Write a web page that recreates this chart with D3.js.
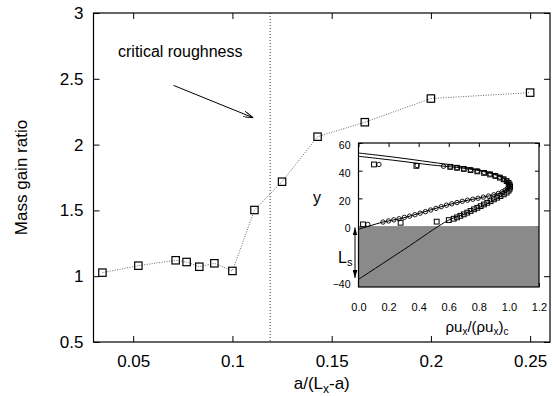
<!DOCTYPE html>
<html lang="en">
<head>
<meta charset="utf-8">
<title>Mass gain ratio</title>
<script src="https://d3js.org/d3.v7.min.js"></script>
<style>
  body { margin: 0; background: white; }
  svg { display: block; font-family: "Liberation Sans", Arial, sans-serif; }
  .axis text { fill: black; }
  .axis line { stroke: black; }
</style>
</head>
<body>
<svg width="553" height="396"></svg>
<script>
// main plot: roughness vs mass gain ratio
const roughness = [0.0345, 0.0526, 0.0714, 0.0769, 0.0833, 0.0909, 0.1, 0.1111, 0.125, 0.1429, 0.1667, 0.2, 0.25];
const massGain  = [1.027, 1.08, 1.121, 1.108, 1.072, 1.098, 1.04, 1.503, 1.718, 2.06, 2.17, 2.35, 2.395];
const xTicks = [0.05, 0.1, 0.15, 0.2, 0.25];
const yTicks = [0.5, 1, 1.5, 2, 2.5, 3];
const criticalX = 0.119;

// inset: velocity profiles (x = rho u_x / (rho u_x)_c, y)
const circles = [[0.062,1.2],[0.136,44.5],[0.39,43.7],
  [0.163,2.9],[0.2,3.7],[0.235,4.5],[0.27,5.3],[0.305,6.3],[0.34,7.2],[0.375,8.2],[0.41,9.3],
  [0.445,10.4],[0.48,11.6],[0.515,12.8],[0.55,14],[0.585,15.1],[0.62,16.1],[0.655,17],[0.69,17.9],
  [0.725,18.7],[0.76,19.4],[0.795,20.1],[0.83,20.9],[0.865,21.7],[0.9,22.6],[0.93,23.6],[0.955,24.7],
  [0.975,25.9],[0.99,27.2],[1.0,28.6],[1.0,30],[0.995,31.4],[0.985,32.7],[0.965,34],[0.94,35.3],
  [0.91,36.5],[0.875,37.6],[0.835,38.7],[0.79,39.7],[0.745,40.6],[0.7,41.4],[0.655,42.1],[0.61,42.7],[0.565,43.2]];
const squares = [[0.03,1.2],[0.103,44.5],[0.385,43.5],[0.28,2.4],[0.52,3.2],[0.6,4.3],
  [0.633,5.3],[0.655,6.3],[0.677,7.4],[0.7,8.5],[0.723,9.7],[0.745,10.9],[0.768,12.1],[0.79,13.2],
  [0.812,14.4],[0.834,15.6],[0.856,16.8],[0.878,18],[0.9,19.3],[0.922,20.5],[0.944,21.7],[0.966,22.9],
  [0.985,24.2],[0.998,25.6],[1.005,27],[1.008,28.4],[1.005,29.8],[0.998,31.2],[0.985,32.5],[0.965,33.8],
  [0.94,35],[0.91,36.2],[0.875,37.3],[0.835,38.4],[0.79,39.5],[0.745,40.4],[0.7,41.3],[0.655,42.1],[0.61,42.8]];
const fitCircles = [[0,-2.4],[0.163,2.9],[0.275,5.3],[0.364,7.9],[0.477,11.6],[0.589,15.2],[0.7,18.1],
  [0.812,20.5],[0.924,23.4],[0.975,26],[1.0,29],[0.99,32.5],[0.95,35.5],[0.88,38.5],[0.78,41],
  [0.65,43.6],[0.48,46.2],[0.25,49.6],[0,52.8]];
const fitSquares = [[0,-38.5],[0.3,-17.1],[0.6,4.3],[0.7,8.5],[0.8,13.3],[0.9,18.8],[0.97,23.5],[1.01,28.4],
  [0.995,32],[0.95,35.2],[0.88,38],[0.78,40.5],[0.65,42.4],[0.48,44.2],[0.25,47.3],[0,50.4]];
const insetXTicks = [0, 0.2, 0.4, 0.6, 0.8, 1.0, 1.2];
const insetYTicks = [60, 40, 20, 0, -40];

const svg = d3.select("svg");

const x = d3.scaleLinear().domain([0.03, 0.26]).range([93.5, 550]);
const y = d3.scaleLinear().domain([0.5, 3]).range([342, 13]);

// axes with inward ticks (mirrored on top/right)
svg.append("g").attr("class", "axis")
   .attr("transform", "translate(0," + y(0.5) + ")")
   .call(d3.axisBottom(x).tickValues(xTicks).tickSize(-6).tickSizeOuter(0).tickPadding(13).tickFormat(d => String(d)))
   .call(g => g.select(".domain").remove())
   .selectAll("text").style("font-size", "17px");
svg.append("g").attr("class", "axis")
   .attr("transform", "translate(0," + y(3) + ")")
   .call(d3.axisTop(x).tickValues(xTicks).tickSize(-6).tickSizeOuter(0).tickFormat(""))
   .call(g => g.select(".domain").remove());
svg.append("g").attr("class", "axis")
   .attr("transform", "translate(" + x(0.03) + ",0)")
   .call(d3.axisLeft(y).tickValues(yTicks).tickSize(-6).tickSizeOuter(0).tickPadding(10).tickFormat(d => String(d)))
   .call(g => g.select(".domain").remove())
   .selectAll("text").style("font-size", "17px");
svg.append("g").attr("class", "axis")
   .attr("transform", "translate(" + x(0.26) + ",0)")
   .call(d3.axisRight(y).tickValues(yTicks).tickSize(-6).tickSizeOuter(0).tickFormat(""))
   .call(g => g.select(".domain").remove());

svg.append("rect")
   .attr("x", x(0.03)).attr("y", y(3))
   .attr("width", x(0.26) - x(0.03)).attr("height", y(0.5) - y(3))
   .attr("fill", "none").attr("stroke", "black").attr("stroke-width", 1.2);

// critical roughness marker
svg.append("line")
   .attr("x1", x(criticalX)).attr("x2", x(criticalX))
   .attr("y1", y(3)).attr("y2", y(0.5))
   .attr("stroke", "black").attr("stroke-width", 0.8).attr("stroke-dasharray", "1,2");

const defs = svg.append("defs");
defs.append("marker").attr("id", "open")
    .attr("viewBox", "0 0 10 6").attr("refX", 10).attr("refY", 3)
    .attr("markerWidth", 10).attr("markerHeight", 6).attr("markerUnits", "userSpaceOnUse")
    .attr("orient", "auto")
    .append("path").attr("d", "M0,0L10,3L0,6").attr("fill", "none").attr("stroke", "black");
defs.append("marker").attr("id", "solid")
    .attr("viewBox", "0 0 10 6").attr("refX", 10).attr("refY", 3)
    .attr("markerWidth", 8).attr("markerHeight", 5).attr("markerUnits", "userSpaceOnUse")
    .attr("orient", "auto-start-reverse")
    .append("path").attr("d", "M0,0L10,3L0,6Z").attr("fill", "black");

svg.append("text")
   .attr("x", 118).attr("y", 57)
   .style("font-size", "16px")
   .text("critical roughness");
svg.append("line")
   .attr("x1", x(0.0703)).attr("y1", y(2.45))
   .attr("x2", x(0.1105)).attr("y2", y(2.204))
   .attr("stroke", "black").attr("marker-end", "url(#open)");

// data
const pts = roughness.map((r, i) => [r, massGain[i]]);
svg.append("path")
   .attr("d", d3.line().x(d => x(d[0])).y(d => y(d[1]))(pts))
   .attr("fill", "none").attr("stroke", "#666").attr("stroke-width", 1)
   .attr("stroke-dasharray", "1,1.5");
svg.selectAll("rect.pt").data(pts).enter().append("rect")
   .attr("class", "pt")
   .attr("x", d => x(d[0]) - 3.7).attr("y", d => y(d[1]) - 3.7)
   .attr("width", 7.4).attr("height", 7.4)
   .attr("fill", "none").attr("stroke", "black").attr("stroke-width", 1.2);

// axis titles
svg.append("text")
   .attr("transform", "rotate(-90)")
   .attr("x", -(y(0.5) + y(3)) / 2).attr("y", 27)
   .attr("text-anchor", "middle").style("font-size", "17px")
   .text("Mass gain ratio");
const xt = svg.append("text")
   .attr("x", (x(0.03) + x(0.26)) / 2).attr("y", 389)
   .attr("text-anchor", "middle").style("font-size", "17px");
xt.append("tspan").text("a/(L");
xt.append("tspan").attr("dy", 4).style("font-size", "12px").text("x");
xt.append("tspan").attr("dy", -4).text("-a)");

// ---- inset ----
const xi = d3.scaleLinear().domain([0, 1.2]).range([358.5, 539]);
const yi = d3.scaleLinear().domain([-44, 60]).range([287, 143]);

svg.append("rect")
   .attr("x", xi(0)).attr("y", yi(60))
   .attr("width", xi(1.2) - xi(0)).attr("height", yi(-44) - yi(60))
   .attr("fill", "white");

svg.append("g").attr("class", "axis")
   .attr("transform", "translate(0," + yi(-44) + ")")
   .call(d3.axisBottom(xi).tickValues(insetXTicks).tickSize(-4).tickSizeOuter(0).tickPadding(16).tickFormat(d3.format(".1f")))
   .call(g => g.select(".domain").remove())
   .selectAll("text").style("font-size", "11px");
svg.append("g").attr("class", "axis")
   .attr("transform", "translate(0," + yi(60) + ")")
   .call(d3.axisTop(xi).tickValues(insetXTicks).tickSize(-4).tickSizeOuter(0).tickFormat(""))
   .call(g => g.select(".domain").remove());
svg.append("g").attr("class", "axis")
   .attr("transform", "translate(" + xi(0) + ",0)")
   .call(d3.axisLeft(yi).tickValues(insetYTicks).tickSize(-4).tickSizeOuter(0).tickPadding(8))
   .call(g => g.select(".domain").remove())
   .selectAll("text").style("font-size", "10.5px").attr("dy", "0.55em");
svg.append("g").attr("class", "axis")
   .attr("transform", "translate(" + xi(1.2) + ",0)")
   .call(d3.axisRight(yi).tickValues(insetYTicks).tickSize(-4).tickSizeOuter(0).tickFormat(""))
   .call(g => g.select(".domain").remove());

// wall region
svg.append("rect")
   .attr("x", xi(0)).attr("y", yi(0))
   .attr("width", xi(1.2) - xi(0)).attr("height", yi(-44) - yi(0))
   .attr("fill", "#8a8a8a");

defs.append("clipPath").attr("id", "insetClip")
    .append("rect").attr("x", xi(0)).attr("y", yi(60))
    .attr("width", xi(1.2) - xi(0)).attr("height", yi(-44) - yi(60));

const inset = svg.append("g").attr("clip-path", "url(#insetClip)");
const curve = d3.line().x(d => xi(d[0])).y(d => yi(d[1])).curve(d3.curveCatmullRom.alpha(0.5));
[fitCircles, fitSquares].forEach(c => {
  inset.append("path").attr("d", curve(c))
       .attr("fill", "none").attr("stroke", "black").attr("stroke-width", 1);
});
inset.selectAll("rect.sq").data(squares).enter().append("rect")
     .attr("class", "sq")
     .attr("x", d => xi(d[0]) - 2.4).attr("y", d => yi(d[1]) - 2.4)
     .attr("width", 4.8).attr("height", 4.8)
     .attr("fill", "none").attr("stroke", "black").attr("stroke-width", 1);
inset.selectAll("circle").data(circles).enter().append("circle")
     .attr("cx", d => xi(d[0])).attr("cy", d => yi(d[1])).attr("r", 2.2)
     .attr("fill", "none").attr("stroke", "black").attr("stroke-width", 0.9);

svg.append("rect")
   .attr("x", xi(0)).attr("y", yi(60))
   .attr("width", xi(1.2) - xi(0)).attr("height", yi(-44) - yi(60))
   .attr("fill", "none").attr("stroke", "black").attr("stroke-width", 1.2);

// inset labels
svg.append("text").attr("x", 317).attr("y", 203)
   .attr("text-anchor", "middle").style("font-size", "16px").text("y");
const ls = svg.append("text").attr("x", 338).attr("y", 263).style("font-size", "16px");
ls.append("tspan").text("L");
ls.append("tspan").attr("dy", 3).style("font-size", "11px").text("s");
svg.append("line")
   .attr("x1", xi(0) - 3.5).attr("x2", xi(0) - 3.5)
   .attr("y1", yi(-1)).attr("y2", yi(-37.5))
   .attr("stroke", "black").attr("stroke-width", 1)
   .attr("marker-start", "url(#solid)").attr("marker-end", "url(#solid)");

const xit = svg.append("text").attr("x", 477).attr("y", 332)
   .attr("text-anchor", "middle").style("font-size", "15px");
xit.append("tspan").text("\u03c1u");
xit.append("tspan").attr("dy", 3).style("font-size", "10px").text("x");
xit.append("tspan").attr("dy", -3).text("/(\u03c1u");
xit.append("tspan").attr("dy", 3).style("font-size", "10px").text("x");
xit.append("tspan").attr("dy", -3).text(")");
xit.append("tspan").attr("dy", 3).style("font-size", "10px").text("c");
</script>
</body>
</html>
